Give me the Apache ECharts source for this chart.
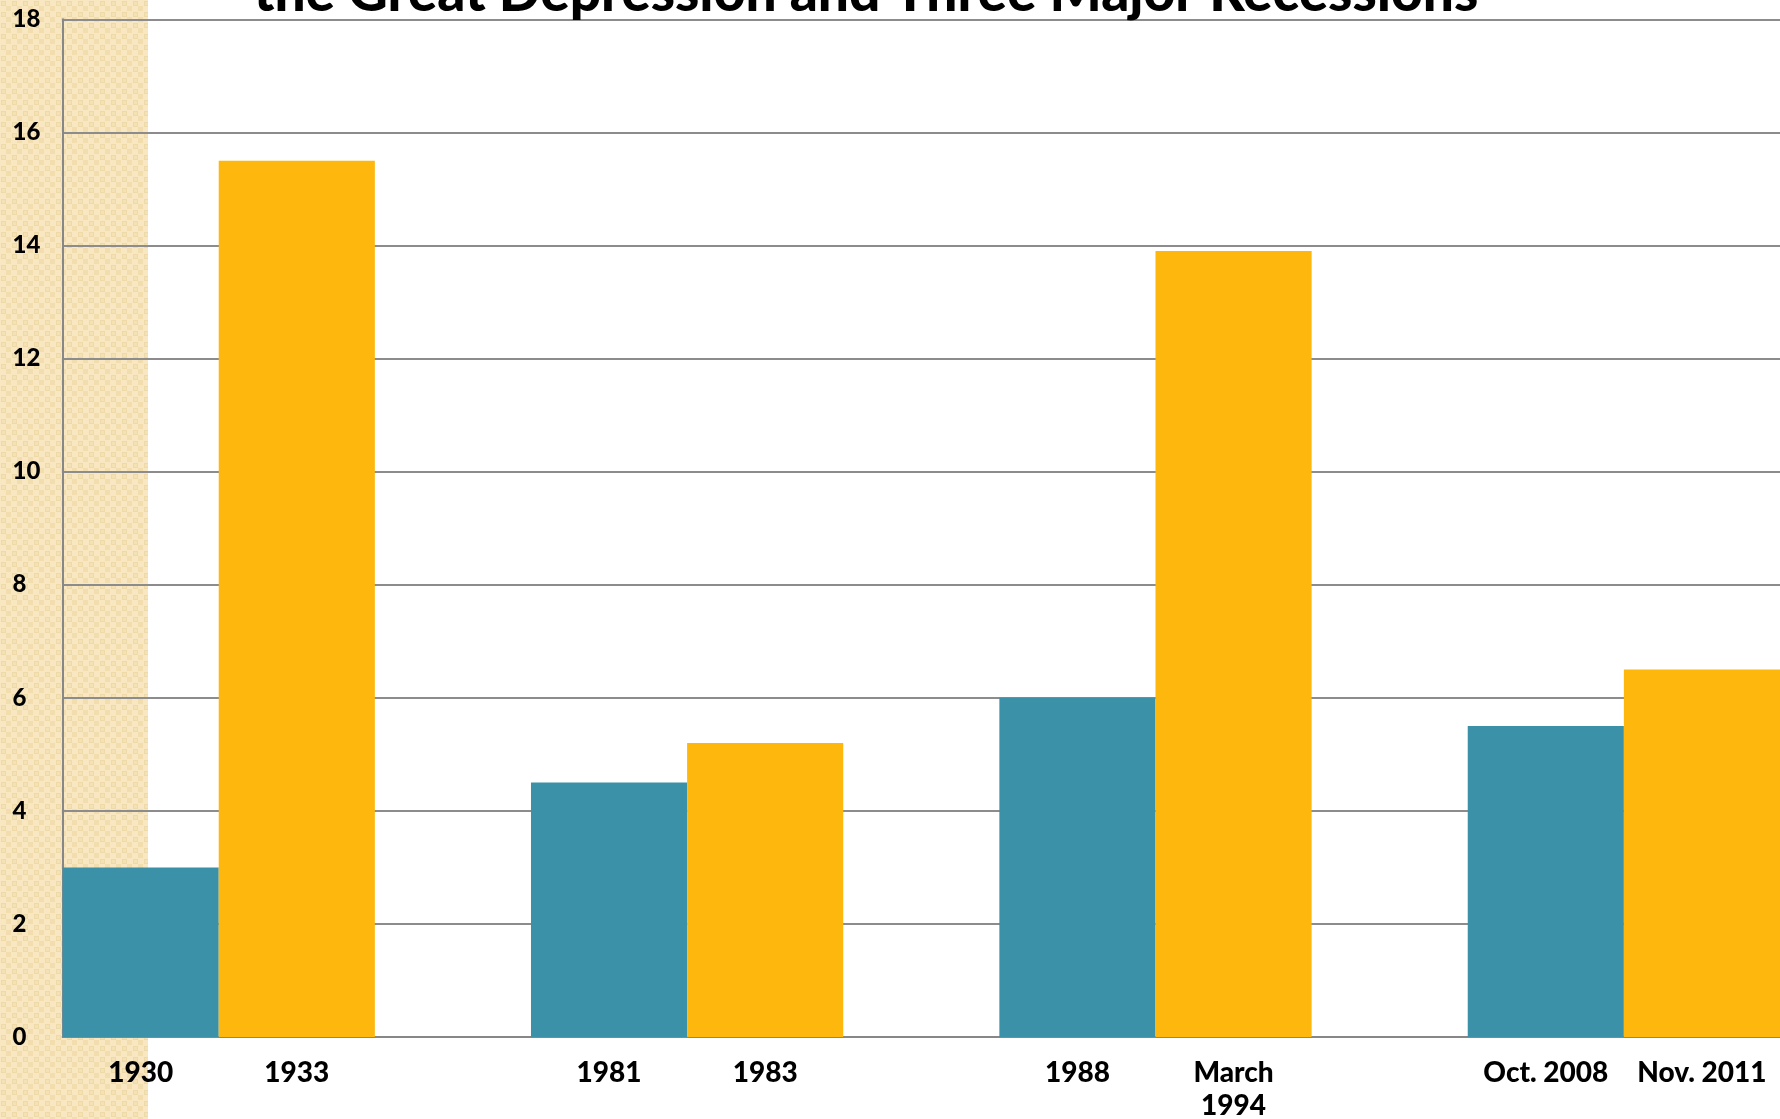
<!DOCTYPE html>
<html>
<head>
<meta charset="utf-8">
<script src="https://cdn.jsdelivr.net/npm/echarts@6/dist/echarts.min.js"></script>
<style>
html,body{margin:0;padding:0;background:#fff;}
#chart{width:1780px;height:1119px;}
</style>
</head>
<body>
<div id="chart"></div>
<script>
// ---- data ----
var titleText = 'the Great Depression and Three Major Recessions';
var categories = ['1930', '1933', '', '1981', '1983', '', '1988', 'March\n1994', '', 'Oct. 2008', 'Nov. 2011'];
var tealValues = [3.0, '-', '-', 4.5, '-', '-', 6.0, '-', '-', 5.5, '-'];
var orangeValues = ['-', 15.5, '-', '-', 5.2, '-', '-', 13.9, '-', '-', 6.5];
var yTicks = { min: 0, max: 18, interval: 2 };

// ---- pattern for the beige band ----
function makePattern() {
  var c = document.createElement('canvas');
  c.width = 11; c.height = 11;
  var g = c.getContext('2d');
  g.fillStyle = '#f8e7c0';
  g.fillRect(0, 0, 11, 11);
  g.fillStyle = '#eedaa9';
  g.fillRect(1, 1, 5, 5);
  g.fillStyle = '#f4e1b4';
  g.fillRect(2, 2, 3, 3);
  g.fillStyle = '#f1ddae';
  g.fillRect(6, 6, 5, 5);
  return c;
}

var chart = echarts.init(document.getElementById('chart'), null, { renderer: 'canvas' });
var font = 'Lato';
chart.setOption({
  animation: false,
  backgroundColor: '#ffffff',
  graphic: [
    {
      type: 'rect', z: -10, silent: true,
      shape: { x: 0, y: 0, width: 148, height: 1119 },
      style: { fill: { image: makePattern(), repeat: 'repeat' } }
    },
    {
      type: 'text', z: 10, silent: true,
      x: 866, y: -7,
      style: {
        text: titleText, fill: '#000', align: 'center', verticalAlign: 'middle',
        font: '900 55px Lato'
      }
    }
  ],
  grid: { left: 62.6, right: 0, top: 19.3, bottom: 82, containLabel: false, outerBoundsMode: 'none' },
  xAxis: {
    type: 'category',
    data: categories,
    boundaryGap: true,
    axisLine: { show: true, lineStyle: { color: '#878787', width: 2 } },
    axisTick: { show: false },
    axisLabel: {
      interval: 0, margin: 19, color: '#000', fontFamily: font, fontWeight: 900,
      fontSize: 28, lineHeight: 33
    },
    splitLine: { show: false }
  },
  yAxis: {
    type: 'value',
    min: yTicks.min, max: yTicks.max, interval: yTicks.interval,
    axisLine: { show: true, lineStyle: { color: '#878787', width: 2 } },
    axisTick: { show: false },
    axisLabel: {
      color: '#000', fontFamily: font, fontWeight: 900, fontSize: 24,
      align: 'left', margin: 50
    },
    splitLine: { show: true, lineStyle: { color: '#8c8c8c', width: 2 } }
  },
  series: [
    {
      type: 'bar', name: 'teal', data: tealValues,
      barWidth: '100%', barGap: '-100%',
      itemStyle: { color: '#3a91a8' }
    },
    {
      type: 'bar', name: 'orange', data: orangeValues,
      barWidth: '100%', barGap: '-100%',
      itemStyle: { color: '#feb70d' }
    }
  ]
});
</script>
</body>
</html>
